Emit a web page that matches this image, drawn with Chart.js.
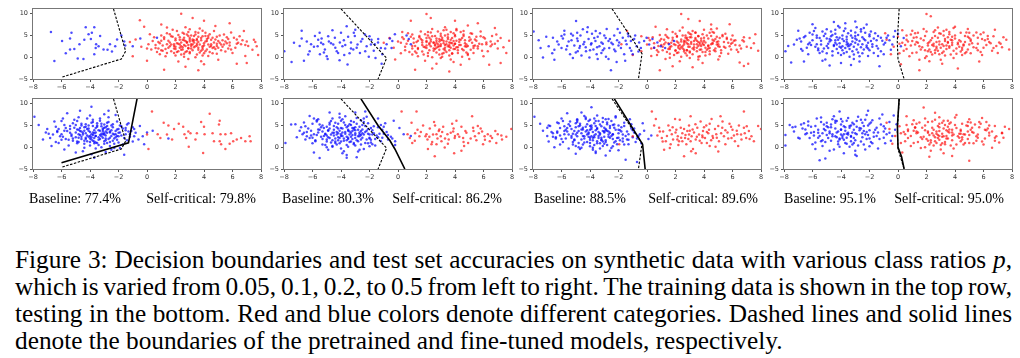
<!DOCTYPE html>
<html>
<head>
<meta charset="utf-8">
<script src="https://cdn.jsdelivr.net/npm/chart.js@4.4.1/dist/chart.umd.min.js"></script>
<style>
  body { margin: 0; width: 1020px; height: 358px; background: #fff; position: relative; overflow: hidden;
         font-family: "Liberation Serif", "Times New Roman", serif; color: #000; }
  canvas.panel { position: absolute; }
  .acc { position: absolute; top: 191px; font-size: 14px; line-height: 16px; white-space: nowrap; transform: translateX(-50%); }
  .cap { position: absolute; left: 15px; font-family: "Liberation Serif", "Times New Roman", serif;
         font-size: 25.3px; line-height: 27px; white-space: nowrap; }
</style>
</head>
<body>

<canvas class="panel" id="t1"></canvas>
<canvas class="panel" id="t2"></canvas>
<canvas class="panel" id="t3"></canvas>
<canvas class="panel" id="t4"></canvas>
<canvas class="panel" id="b1"></canvas>
<canvas class="panel" id="b2"></canvas>
<canvas class="panel" id="b3"></canvas>
<canvas class="panel" id="b4"></canvas>

<div class="acc" style="left:75px">Baseline: 77.4%</div>
<div class="acc" style="left:201px">Self-critical: 79.8%</div>
<div class="acc" style="left:328px">Baseline: 80.3%</div>
<div class="acc" style="left:447px">Self-critical: 86.2%</div>
<div class="acc" style="left:580px">Baseline: 88.5%</div>
<div class="acc" style="left:703px">Self-critical: 89.6%</div>
<div class="acc" style="left:830px">Baseline: 95.1%</div>
<div class="acc" style="left:949px">Self-critical: 95.0%</div>

<div class="cap fit" style="top:246px">Figure 3: Decision boundaries and test set accuracies on synthetic data with various class ratios <i>p</i>,</div>
<div class="cap fit" style="top:273px">which is varied from 0.05, 0.1, 0.2, to 0.5 from left to right. The training data is shown in the top row,</div>
<div class="cap fit" style="top:300px">testing in the bottom. Red and blue colors denote different categories. Dashed lines and solid lines</div>
<div class="cap" style="top:327px">denote the boundaries of the pretrained and fine-tuned models, respectively.</div>

<script>
// axes
const xTicks = [-8, -6, -4, -2, 0, 2, 4, 6, 8];
const yTicks = [-5, 0, 5, 10];
const yMax = 11.1;

// ---- p = 0.05 ----
const redTop1 = [
  2.1,3.2, 3.4,2.5, 2.8,1.4, 4.1,3.6, 1.5,2.2, 3.0,4.4, 2.4,0.6, 5.2,2.9, 3.7,1.1, 0.8,3.5,
  2.6,2.8, 3.9,4.8, 1.9,1.0, 4.6,2.1, 3.3,3.9, 0.3,1.8, 5.8,3.4, 2.2,5.1, 4.3,0.3, 1.2,4.2,
  3.1,2.0, 2.7,3.7, 4.8,4.1, 1.7,2.9, 3.6,5.6, 6.2,2.2, 0.9,0.7, 2.9,-0.4, 4.0,2.7, 2.0,3.9,
  3.5,3.1, 5.5,1.3, 1.4,5.5, 3.8,-0.9, 6.7,3.9, 2.5,2.3, 4.4,5.3, 0.1,3.0, 3.2,1.6, 5.0,3.7,
  2.3,4.6, 1.1,1.5, 4.2,1.8, 3.7,6.6, 2.6,0.1, 7.1,2.6, 0.5,4.6, 4.9,0.8, 2.0,2.4, 3.3,4.9,
  1.6,3.4, 4.5,3.0, 2.9,5.8, 5.6,4.6, 3.0,0.9, 6.0,1.0, -0.4,2.4, 3.9,2.2, 2.4,1.7, 4.7,6.0,
  1.8,6.3, 3.6,3.5, 5.3,2.4, 0.6,2.1, 2.8,3.3, 6.5,4.8, 4.0,-1.6, 1.3,0.2, 3.4,5.2, 7.4,1.7,
  2.5,4.0, 4.9,2.6, 1.0,3.8, 3.2,2.9, 5.9,5.7, -0.8,4.1, 2.2,-1.0, 4.3,4.4, 6.9,0.3, 3.8,1.5,
  2.7,6.9, 0.2,5.3, 4.6,0.9, 1.9,2.0, 5.1,3.3, 3.5,4.2, 2.1,1.2, 6.3,3.1, 1.4,6.8, 4.4,2.4,
  3.0,3.6, 5.7,2.0, 0.7,1.2, 2.6,5.4, 4.1,4.9, 7.6,3.5, 1.7,4.8, 3.9,0.4, 5.4,5.2, 2.9,2.1,
  2.4,10.0, 3.2,9.0, -0.5,8.5, 4.0,8.4, 5.8,7.8, 7.0,-1.3, 6.3,-1.5, 3.6,-3.0, 2.7,-2.2, 1.2,-2.9,
  -1.0,0.2, -1.2,3.5, -0.2,7.0, 7.8,0.5, 7.5,4.0, 6.8,6.0, 1.0,7.5, 5.0,-0.6, 0.0,-0.8, 4.8,7.2,
  2.3,2.9, 3.1,2.6, 2.8,3.5, 3.6,2.2, 1.9,3.0, 4.0,3.2, 2.5,1.8, 3.3,3.4, 4.5,2.6, 1.6,2.5,
  2.9,2.0, 3.8,3.9, 2.0,4.3, 4.2,4.2, 3.0,1.2, 1.4,3.0, 5.0,2.2, 2.6,4.5, 3.5,0.6, 4.7,3.4,
  2.2,1.4, 3.2,4.1, 1.1,2.7, 5.3,3.9, 3.9,1.8, 2.7,2.6, 4.4,1.2, 0.8,2.0, 3.4,5.8, 5.8,2.7,
  2.4,3.4, 3.7,2.9, 1.8,4.7, 4.9,4.7, 3.1,3.0, 0.4,3.7, 5.5,3.6, 2.0,0.4, 4.1,5.6, 6.4,3.3,
  2.9,4.9, 1.3,1.9, 3.6,1.7, 4.6,4.5, 2.3,2.2, 6.1,4.5, 1.0,5.0, 3.9,6.1, 5.2,1.6, 2.6,3.9,
  3.3,2.3, 4.3,2.9, 1.5,3.8, 2.8,5.2, 5.7,4.2, 3.5,2.7, 0.0,2.0, 4.0,0.9, 2.1,6.0, 6.9,2.8,
  3.0,4.0, 2.4,2.5, 4.8,1.9, 1.7,1.4, 3.8,4.4, 5.1,5.0, 2.2,3.1, 3.4,0.0, 6.3,4.1, 0.9,3.2,
  4.2,3.7, 1.2,4.6, 3.1,5.0, 5.4,2.9, 2.7,1.2, 4.5,4.0, 1.9,2.6, 6.6,3.0, 3.6,4.7, 2.5,5.6,
  3.9,2.5, 4.9,3.1, 1.4,1.0, 2.9,2.8, 5.9,1.8, 3.2,3.7, 0.6,2.8, 4.3,4.9, 2.0,1.9, 7.0,3.6,
  3.5,3.9, 2.6,0.8, 4.7,2.3, 1.6,5.3, 3.0,6.4, 5.6,3.2, 2.3,4.0, 4.1,1.4, 1.0,1.6, 7.7,2.5
];
const blueTop1 = [
  -6.74,5.8, -5.96,3.7, -6.5,-0.85, -5.3,5.6, -5.4,4.3, -5.7,0.9, -5.4,1.8, -5.1,1.9, -4.86,-0.3, -4.74,3.0,
  -4.3,6.9, -4.1,5.3, -4.4,4.0, -3.94,4.2, -3.7,6.9, -3.87,5.6, -3.7,0.7, -3.57,3.0, -3.4,2.5, -3.29,4.9,
  -3.6,2.1, -2.77,1.7, -2.6,3.0, -2.46,1.3, -2.23,2.5, -2.1,4.1, -1.8,5.0, -1.6,3.6, -1.53,2.7, -1.0,2.5,
  -0.47,4.3, 0.7,4.5, -3.05,1.8, -4.46,-0.4
];
const blueBot1 = [
  -3.2,3.1, -4.1,2.4, -2.7,4.2, -3.8,1.5, -4.6,3.6, -2.3,2.0, -3.5,5.0, -5.0,2.3, -1.9,3.4, -3.0,0.8,
  -4.4,4.6, -2.9,2.7, -3.7,3.9, -5.4,4.2, -2.0,1.1, -4.0,0.4, -3.3,6.1, -6.0,3.0, -1.5,4.4, -2.6,3.6,
  -4.8,1.2, -3.9,5.6, -3.1,2.2, -5.7,1.9, -2.4,5.3, -4.3,3.2, -1.2,2.4, -6.4,4.7, -3.6,-0.3, -2.8,4.9,
  -5.2,5.5, -3.4,1.7, -4.7,2.8, -2.2,3.0, -6.8,2.1, -3.0,4.5, -4.2,6.6, -1.7,0.6, -5.5,0.4, -2.5,-0.6,
  -3.8,3.4, -4.9,4.1, -2.1,5.9, -6.2,1.0, -3.2,0.0, -0.8,3.3, -5.1,6.3, -4.5,-0.9, -2.9,1.6, -7.1,3.4,
  -3.6,2.6, -4.0,7.3, -1.4,1.6, -5.8,3.8, -2.7,6.9, -4.6,1.9, -3.3,3.8, -0.5,4.9, -6.5,5.9, -3.9,-1.6,
  -2.3,2.9, -5.3,2.6, -4.1,4.3, -1.8,4.8, -7.6,5.1, -3.0,7.6, -4.4,-0.1, -2.6,0.3, -5.9,6.6, -1.0,1.3,
  -3.5,4.7, -4.8,3.0, -2.0,2.5, -6.1,2.5, -3.7,0.9, -0.3,2.5, -5.0,-1.2, -2.8,5.6, -4.3,5.3, -1.3,5.5,
  -3.9,9.3, -7.9,7.0, -6.7,0.3, -1.6,-1.7, -2.2,7.4, -5.6,7.8, -0.2,0.7, -7.3,1.8, -4.7,8.4, 0.4,3.8,
  -3.1,4.0, -4.2,1.4, -2.5,3.9, -3.4,2.3, -5.4,3.3, -1.1,3.7, -4.0,2.0, -2.9,-1.1, -6.3,3.5, -2.4,1.5,
  -3.8,6.3, -4.6,5.0, -1.9,-0.2, -5.8,-0.5, -3.2,5.4, -0.9,4.2, -4.9,0.9, -2.6,2.2, -7.0,4.2, -3.6,1.1,
  -4.4,3.8, -2.1,4.1, -5.2,1.5, -3.0,3.2, -1.5,3.0, -6.0,6.0, -3.7,-2.4, -2.7,8.4, -4.8,6.9, 1.5,2.0,
  -3.3,2.8, -4.0,3.5, -2.8,3.3, -3.7,2.1, -4.5,2.9, -2.5,2.6, -3.1,4.3, -4.3,1.9, -2.2,3.7, -5.0,3.4,
  -3.9,3.0, -2.9,2.0, -4.7,4.4, -3.4,3.9, -1.8,2.7, -4.2,2.7, -3.0,1.4, -5.3,2.9, -2.4,4.6, -3.6,4.4,
  -4.4,1.5, -2.7,1.9, -3.8,4.9, -5.6,3.7, -2.0,4.2, -3.2,2.5, -4.8,2.2, -1.6,2.1, -3.5,1.0, -4.1,5.0,
  -2.6,3.4, -5.9,2.4, -3.9,2.3, -2.1,1.7, -4.6,5.4, -3.0,5.2, -6.3,3.7, -1.3,3.6, -3.7,3.2, -4.9,1.3,
  -2.8,4.1, -4.2,4.2, -3.4,0.5, -5.4,4.9, -1.9,5.0, -3.1,3.6, -4.5,3.3, -2.3,0.8, -6.0,1.7, -3.8,5.8,
  -2.5,5.0, -4.0,1.2, -5.1,4.5, -3.3,1.9, -1.5,3.9, -4.7,3.7, -2.9,4.6, -6.6,2.9, -3.6,2.6, -0.9,2.5,
  -4.3,2.2, -2.2,2.3, -3.2,4.8, -5.7,4.4, -2.6,1.2, -4.1,3.8, -1.2,3.0, -3.9,1.8, -5.5,1.7, -3.0,2.9,
  -4.8,4.0, -2.0,3.3, -3.5,5.5, -6.2,4.2, -2.7,5.8, -4.4,0.8, -1.7,4.3, -3.6,3.4, -5.0,5.1, -2.4,3.1,
  -3.8,2.8, -4.6,2.4, -2.9,3.6, -5.2,2.0, -3.3,6.6, -1.0,4.6, -4.9,6.0, -2.3,-0.2, -6.9,3.1, -0.6,1.8,
  -3.1,3.0, -4.3,4.7, -2.1,2.6, -5.8,5.1, -3.7,1.3, -4.0,2.6, -2.8,1.0, -6.4,1.2, -1.4,5.2, 0.0,3.4
];
const redBot1 = [
  0.35,8.2, 1.17,5.6, 0.75,3.0, 0.94,2.1, 1.4,2.9, 1.5,5.0, 1.9,4.2, 1.76,1.8, 2.23,5.4, 2.54,4.7,
  2.63,3.0, 2.75,2.1, 2.9,3.6, 3.05,3.2, 3.4,1.8, 3.5,3.2, 3.8,5.8, 4.0,4.7, 3.94,-1.3, 4.04,3.0,
  4.4,7.7, 4.6,3.2, 5.1,6.1, 5.05,5.2, 5.16,3.0, 5.1,1.4, 5.2,0.7, 5.5,3.0, 5.5,-0.4, 5.8,0.8,
  5.9,3.2, 6.05,1.4, 6.3,1.8, 6.6,2.1, 6.9,1.4, 7.2,2.5, 7.27,1.4, 0.0,2.9, 0.1,-0.4, 2.93,0.1,
  4.7,1.4
];
const dash1 = [-2.35,11.1, -1.5,1.4, -1.8,-0.4, -6.0,-4.6];
const solid1 = [-0.7,11.1, -1.3,1.0, -6.0,-3.55];

// ---- p = 0.1 ----
const redTop2 = [
  3.3,2.8, 2.0,3.5, 4.5,1.9, 2.7,4.3, 3.8,0.9, 1.2,2.6, 5.0,3.8, 2.9,1.7, 4.0,5.1, 0.6,3.1,
  3.6,3.4, 1.7,1.3, 5.4,2.7, 2.3,5.7, 4.2,2.3, 3.0,-0.2, 6.1,4.3, 0.9,4.7, 3.5,4.6, 2.5,2.0,
  4.7,3.2, 1.4,3.8, 2.8,3.0, 5.9,1.5, 3.2,6.2, 0.2,0.9, 4.4,4.0, 2.1,0.3, 6.6,2.9, 3.7,2.2,
  2.6,4.9, 5.2,5.4, 1.0,2.0, 3.9,-1.1, 4.9,0.5, 2.2,2.9, 7.0,3.7, 3.4,1.2, 1.6,5.9, 4.1,3.8,
  2.9,3.6, 5.7,3.1, 0.4,4.2, 3.1,4.0, 4.6,6.0, 1.9,-0.8, 6.3,1.4, 2.4,6.5, 3.6,0.4, 5.5,4.7,
  1.3,1.0, 4.3,2.8, 2.0,4.4, 3.5,2.5, 6.9,5.2, -0.3,2.2, 4.8,1.1, 2.7,-1.5, 3.0,5.4, 7.4,2.3,
  1.8,2.4, 3.8,4.4, 5.3,2.1, 0.7,5.5, 2.5,3.3, 6.0,0.2, 4.0,3.1, 1.1,3.3, 3.3,6.9, 5.0,-0.4,
  2.2,1.6, 4.6,4.9, 3.2,3.7, 0.0,3.6, 5.8,5.9, 2.9,2.5, 4.4,-1.7, 1.5,4.6, 6.5,3.6, 3.7,5.8,
  2.0,9.9, 2.3,9.0, 4.0,8.4, 0.9,8.4, 5.6,7.8, 6.8,6.7, 7.8,3.8, 7.2,-1.3, 6.4,-1.7, 3.6,-3.3,
  1.2,-2.9, 2.4,-2.6, -0.2,-0.5, -0.6,4.4, -1.0,3.3, 7.6,1.0, 4.9,7.3, 3.1,0.8, 1.7,3.9, 4.2,1.6,
  2.6,2.7, 3.4,3.0, 4.8,2.4, 1.4,1.9, 5.1,4.1, 3.9,1.9, 2.1,5.0, 0.5,1.6, 4.5,0.1, 3.0,3.9,
  5.6,2.5, 1.0,0.6, 3.7,3.3, 2.7,1.1, 6.2,3.0, 4.1,6.5, 2.3,4.1, 3.2,1.9, 0.3,5.8, 5.3,1.0,
  2.8,2.4, 3.4,3.6, 2.2,3.2, 3.9,2.7, 2.5,1.5, 4.3,3.5, 1.7,2.8, 3.1,4.5, 4.8,2.9, 2.0,2.1,
  3.6,1.6, 2.7,3.8, 4.5,4.4, 1.3,3.5, 3.3,2.2, 5.2,3.3, 2.4,4.8, 3.8,0.8, 1.0,2.6, 4.1,2.3,
  3.0,3.0, 2.1,1.0, 5.0,4.6, 3.5,5.2, 1.6,4.2, 4.6,1.6, 2.9,0.6, 5.6,2.0, 0.7,3.8, 3.7,4.0,
  2.6,2.9, 4.0,3.1, 1.9,5.3, 5.4,4.1, 3.2,1.0, 6.2,3.4, 0.5,2.4, 2.3,3.6, 4.4,5.8, 3.6,2.8,
  2.0,3.7, 4.9,2.6, 3.0,4.9, 1.2,1.3, 5.8,4.8, 2.7,2.2, 4.2,1.0, 6.5,2.5, 1.8,0.6, 3.4,6.3,
  3.9,3.7, 2.3,2.5, 5.1,1.7, 1.5,4.9, 4.7,3.9, 3.1,0.1, 0.2,3.3, 2.8,5.9, 6.0,4.6, 4.0,4.8,
  2.5,3.4, 3.6,2.4, 1.4,2.1, 4.4,2.8, 2.9,4.2, 5.5,3.8, 1.1,4.3, 3.3,1.6, 6.8,3.1, 2.1,5.8,
  3.8,3.2, 4.6,5.2, 2.4,0.0, 5.3,2.6, 1.7,3.4, 3.2,3.2, 0.8,1.2, 4.1,6.2, 7.2,4.4, 2.6,1.9,
  3.5,4.2, 1.9,2.3, 4.9,0.8, 3.0,2.6, 5.9,3.0, 2.2,4.5, 4.3,4.1, 1.0,5.2, 3.7,-0.5, 6.6,4.9,
  2.7,3.3, 4.0,1.9, 3.3,5.0, 1.4,0.2, 5.1,5.5, 2.0,2.7, 4.7,2.5, 0.3,4.6, 3.9,5.5, 7.0,2.0
];
const blueTop2 = [
  -7.98,1.4, -7.47,-1.1, -6.76,6.1, -6.76,4.3, -6.6,-0.8, -6.2,1.4, -6.1,3.0, -5.83,4.9, -5.5,5.6, -5.36,4.3,
  -5.64,2.5, -5.48,0.7, -5.25,3.0, -5.13,1.8, -4.94,-0.4, -4.85,3.6, -4.54,2.9, -4.43,4.5, -4.3,1.4, -4.08,3.4,
  -3.9,2.5, -3.77,0.5, -3.6,7.1, -3.5,4.7, -3.54,-1.65, -3.3,3.4, -3.14,1.8, -3.03,4.9, -2.84,2.9, -2.67,1.0,
  -2.5,4.2, -2.32,5.2, -2.2,2.5, -2.05,0.1, -1.86,4.0, -1.63,3.0, -1.58,-0.2, -1.39,4.2, -1.2,2.1, -1.1,0.7,
  -0.8,3.0, -0.57,4.3, -0.45,2.1, -0.22,5.3, 0.6,5.0, 0.76,4.2, 0.9,3.0, -1.15,-1.5, -4.2,1.0,
  -4.7,3.2, -5.9,2.4, -3.8,3.9, -2.9,2.2, -5.2,1.1, -4.0,5.6, -6.4,3.6, -3.4,0.9, -2.6,3.6, -4.4,2.2,
  -1.9,2.9, -5.6,4.0, -3.1,5.6, -6.9,2.6, -4.9,4.8, -2.3,1.4, -3.7,2.8, -1.4,3.4, -5.0,0.2, -3.0,6.3,
  -7.3,3.3, -0.9,2.0, -4.1,-0.7, -2.0,4.8, -6.3,0.6, -3.3,2.0, -4.6,6.2, -1.7,1.5, -5.4,3.3, -0.4,3.7
];
const blueBot2 = [
  -3.6,2.4, -4.3,3.5, -2.9,1.6, -3.9,4.3, -5.0,1.8, -2.5,3.2, -3.3,5.1, -4.7,2.9, -2.0,2.2, -3.0,3.9,
  -5.6,3.4, -4.1,0.9, -2.7,4.7, -3.5,0.1, -4.8,5.2, -1.8,3.9, -6.0,2.2, -3.2,2.8, -4.5,4.0, -2.3,1.0,
  -3.8,1.5, -5.3,0.6, -2.1,5.5, -4.0,6.1, -6.3,4.3, -1.5,2.7, -3.1,0.7, -5.0,4.7, -2.6,6.2, -4.4,1.3,
  -3.4,3.6, -6.7,3.0, -1.2,1.4, -4.9,-0.6, -3.7,7.1, -2.4,-0.4, -5.7,5.9, -0.8,3.5, -4.2,2.3, -3.0,4.6,
  -7.2,5.3, -5.2,2.6, -2.8,2.5, -4.6,6.6, -1.7,4.8, -3.9,-1.4, -6.0,0.9, -2.2,7.0, -0.4,2.0, -3.5,4.9,
  -4.0,3.0, -5.5,4.0, -2.0,0.2, -3.3,6.0, -6.5,1.8, -1.0,4.7, -4.6,0.3, -2.6,3.7, -5.9,6.6, -3.6,-2.4,
  -7.9,1.0, -7.5,5.2, -6.2,7.2, -4.1,7.7, -0.2,0.5, -5.5,-2.5, -3.0,8.0, -1.4,6.6, 0.1,4.4, -2.9,-2.3,
  -4.3,4.6, -2.4,2.9, -5.1,3.1, -3.2,1.9, -1.3,3.1, -4.7,1.1, -3.8,5.7, -6.1,2.7, -2.1,4.2, -0.7,1.8,
  -3.5,2.2, -4.4,2.0, -2.7,3.4, -5.3,5.0, -1.9,1.7, -3.1,4.4, -4.9,3.8, -6.9,3.8, -2.5,5.1, -4.0,-0.3,
  -3.7,3.1, -5.8,1.4, -1.6,0.4, -4.2,5.4, -2.8,-1.0, -0.9,5.5, -6.6,5.7, -3.4,1.2, -5.0,0.0, -1.1,2.2,
  -4.8,2.1, -3.0,2.8, -2.2,3.8, -4.5,3.3, -3.9,2.6, -5.4,2.4, -2.6,1.8, -3.3,3.3, -1.8,2.9, -4.2,4.3,
  -6.4,3.5, -7.1,2.3, -5.6,6.4, -0.3,6.1, 0.4,3.0, 0.9,2.6, -2.3,8.2, -4.8,8.0, -3.6,-1.8, -5.9,-1.2,
  -3.4,2.9, -4.1,3.8, -2.7,2.5, -3.8,2.0, -4.6,3.3, -2.3,3.5, -3.1,4.1, -4.9,2.3, -2.0,2.9, -3.6,4.6,
  -5.3,3.6, -4.2,1.6, -2.5,4.1, -3.3,1.3, -4.5,4.9, -1.7,3.2, -5.7,2.8, -3.0,3.2, -4.0,2.6, -2.2,1.8,
  -3.7,3.5, -5.0,1.3, -2.9,5.4, -4.4,5.6, -6.1,3.8, -1.4,2.3, -3.5,1.9, -4.8,4.3, -2.4,5.8, -4.3,0.6,
  -3.2,4.4, -6.4,2.5, -1.9,1.1, -4.6,0.1, -3.9,6.4, -2.6,0.6, -5.5,5.2, -1.1,4.0, -4.1,2.1, -2.8,4.0,
  -6.8,4.6, -5.1,3.0, -3.0,2.1, -4.7,6.0, -1.9,4.4, -3.6,0.5, -5.8,1.6, -2.4,6.6, -0.7,2.8, -3.4,5.3,
  -4.2,3.2, -5.4,4.6, -2.1,0.9, -3.1,5.8, -6.2,2.1, -1.2,5.1, -4.4,1.0, -2.7,3.0, -5.7,6.2, -3.8,-0.9,
  -4.9,3.9, -2.5,2.2, -3.9,3.4, -1.6,1.9, -4.5,2.7, -3.3,2.4, -5.2,4.4, -2.8,1.4, -3.5,4.0, -6.6,3.3,
  -4.0,4.4, -2.1,3.1, -5.0,2.7, -3.2,3.7, -1.4,4.6, -4.6,1.6, -3.7,5.1, -5.9,3.0, -2.3,4.9, -0.5,2.4,
  -3.6,1.6, -4.3,2.9, -2.6,2.8, -5.6,4.1, -2.0,2.0, -3.0,0.4, -4.8,5.6, -6.5,4.8, -2.9,6.7, -4.0,1.3,
  -3.5,3.8, -5.3,1.9, -1.8,0.7, -4.1,6.8, -2.7,-0.6, -1.0,3.1, -6.0,5.4, -3.1,1.0, -5.1,0.5, -0.2,1.4
];
const redBot2 = [
  0.25,8.2, 1.3,8.2, 0.95,5.6, 0.67,3.0, 0.83,2.1, 1.0,1.0, 1.37,4.0, 1.5,2.5, 1.76,5.0, 2.0,3.0,
  2.07,1.8, 2.23,4.3, 2.35,0.7, 2.53,5.8, 2.7,3.0, 2.77,2.0, 2.58,-2.1, 2.86,3.7, 3.0,2.5, 3.05,1.4,
  3.17,4.7, 3.28,-0.05, 3.47,3.0, 3.56,1.8, 3.8,5.4, 3.87,3.6, 3.94,-1.4, 4.1,6.1, 4.2,3.0, 4.45,4.7,
  4.57,2.1, 4.73,3.7, 4.92,1.0, 5.2,7.1, 5.27,4.5, 5.4,2.5, 5.5,1.6, 5.67,3.2, 5.8,4.3, 5.97,0.7,
  6.08,2.5, 6.3,3.0, 6.44,1.4, 6.6,2.1, 6.83,3.7, 7.25,2.7, 7.3,1.8, 7.95,4.2, 2.46,2.9, 3.98,2.1,
  4.64,0.3, 2.7,0.7, 1.93,2.5, 1.18,1.5, 4.45,-0.8,
  1.6,3.5, 2.2,2.4, 2.9,4.1, 3.3,2.0, 3.7,3.3, 4.3,2.4, 4.8,3.3, 5.1,2.0, 5.9,3.6, 6.5,2.6,
  2.4,1.2, 3.1,3.5, 3.9,4.3, 4.6,1.2, 5.3,3.7, 6.1,1.7, 7.0,3.0, 1.2,3.2, 2.6,5.0, 3.5,0.8,
  4.0,2.6, 5.6,4.9, 6.9,1.0, 2.1,-0.4, 7.6,2.4
];
const dash2 = [-4.0,11.1, -0.8,-0.2, -1.4,-5];
const solid2 = [-2.6,11.1, -1.4,5.0, -0.57,1.55, -0.22,-0.4, 0.48,-5];

// ---- p = 0.2 ----
const redTop3 = [
  2.5,2.6, 3.7,3.3, 2.0,1.5, 4.3,2.0, 3.1,4.6, 1.3,3.4, 5.1,2.4, 2.8,0.4, 3.9,5.3, 0.5,2.2,
  3.3,1.8, 2.4,4.1, 4.7,3.8, 1.6,0.8, 5.6,4.5, 2.9,3.0, 0.9,5.1, 3.6,-0.5, 6.2,2.8, 4.1,1.2,
  1.9,3.0, 3.4,5.7, 5.2,1.0, 2.2,2.2, 4.5,4.9, 0.2,3.9, 3.0,2.4, 6.8,3.6, 1.1,1.6, 3.8,3.8,
  2.7,5.0, 4.9,2.9, 1.5,4.4, 3.5,1.4, 5.9,1.8, 2.3,-0.9, 4.0,6.3, 0.7,0.5, 3.1,3.5, 7.2,4.4,
  4.4,0.7, 1.8,5.8, 2.6,3.8, 5.5,5.4, 3.6,2.6, -0.4,1.4, 4.8,4.2, 2.1,1.0, 6.4,1.2, 3.2,6.0,
  1.0,2.8, 3.9,3.0, 2.8,4.5, 5.7,3.3, 0.4,4.6, 4.2,1.7, 2.4,0.1, 6.0,5.0, 3.4,4.1, 1.4,6.4,
  4.6,5.8, 2.2,3.3, 3.7,0.2, 5.0,3.6, 1.7,2.5, 6.6,2.0, 3.0,1.1, 0.0,2.9, 4.3,2.6, 2.5,6.8,
  3.5,2.2, 4.8,1.4, 1.2,4.0, 2.9,3.9, 5.3,4.8, 3.9,-1.3, 7.0,2.4, 2.0,5.4, 4.1,3.4, 0.8,1.2,
  2.4,9.9, 3.7,8.3, 2.9,8.8, 5.8,7.6, 7.6,5.3, 7.8,1.5, 6.5,-1.2, 6.8,-2.0, 3.2,-2.3, 0.9,-3.0,
  1.8,-2.1, -1.0,0.5, -1.8,3.0, -1.4,6.0, 0.6,7.0, 4.5,7.5, 7.1,-1.5, 5.0,-0.5, -0.4,4.8, 2.6,1.7,
  3.3,2.9, 4.0,4.5, 1.6,1.9, 5.4,2.4, 2.8,1.6, 3.6,4.9, 4.6,3.1, 2.1,4.7, 0.3,0.3, 5.9,4.1,
  3.0,5.4, 1.3,-0.4, 4.4,5.6, 6.2,3.9, 2.3,2.8, 3.8,1.8, 5.1,0.2, 1.5,3.2, 4.9,6.6, 2.7,3.6,
  2.6,2.9, 3.3,2.3, 2.1,3.6, 4.0,2.8, 3.0,1.3, 1.6,2.3, 4.6,3.3, 2.8,4.1, 3.7,1.7, 5.0,2.5,
  2.3,1.9, 3.5,3.8, 1.2,3.0, 4.3,4.3, 2.9,2.4, 5.4,3.5, 1.8,4.5, 3.2,0.7, 4.7,1.6, 0.8,2.6,
  3.9,3.4, 2.5,5.0, 5.8,2.5, 1.4,1.2, 3.6,4.8, 4.4,2.1, 2.0,2.8, 6.1,3.8, 2.7,0.9, 3.1,3.1,
  4.9,4.7, 1.0,4.2, 3.8,2.6, 2.2,1.1, 5.2,1.6, 3.4,5.6, 0.5,3.2, 4.1,0.4, 2.4,3.6, 6.5,2.7,
  3.0,4.6, 4.5,3.0, 1.7,3.3, 5.6,4.2, 2.8,1.6, 3.7,2.9, 1.3,5.1, 4.8,2.0, 2.1,4.9, 6.8,4.6,
  3.3,3.7, 2.4,2.3, 4.2,5.0, 1.5,1.9, 5.9,3.1, 3.6,0.1, 0.9,3.8, 4.6,4.0, 2.9,5.7, 7.3,2.1,
  3.9,1.2, 2.6,3.4, 4.0,3.8, 1.9,0.5, 5.3,5.1, 3.2,2.0, 0.3,2.0, 4.4,1.4, 2.3,6.1, 6.3,1.7,
  3.5,3.0, 4.9,3.5, 1.1,2.4, 2.7,4.5, 5.7,0.8, 3.8,4.3, 2.0,1.6, 6.0,3.3, 3.1,5.2, 1.6,-0.1,
  2.5,2.0, 4.3,2.7, 3.4,4.4, 5.1,4.4, 1.4,4.7, 2.8,3.2, 4.7,5.6, 0.7,1.6, 3.6,3.5, 6.7,3.9,
  4.1,2.2, 2.2,2.6, 5.5,2.2, 3.0,-0.2, 1.8,3.9, 4.5,6.4, 2.6,1.3, 5.0,3.0, 0.1,4.4, 7.5,3.2
];
const blueTop3 = [
  -7.96,5.9, -7.47,2.1, -7.3,-0.05, -7.07,4.7, -6.6,4.5, -6.65,0.9, -6.5,-0.6, -6.2,2.9, -5.9,4.3, -5.8,6.1,
  -5.67,1.8, -5.5,3.6, -5.4,0.7, -5.2,5.0, -5.1,2.7, -4.98,8.3, -4.86,3.7, -4.74,2.1, -4.67,5.0, -4.5,6.4,
  -4.46,3.0, -4.28,1.4, -4.16,6.9, -4.1,4.2, -3.93,2.9, -3.86,5.4, -3.76,1.8, -3.62,3.7, -3.53,0.7, -3.46,4.7,
  -3.34,2.5, -3.2,3.4, -3.1,1.6, -3.0,5.0, -2.88,0.1, -2.83,6.5, -2.7,3.7, -2.65,2.1, -2.53,-3.0, -2.4,3.0,
  -2.3,5.0, -2.22,1.4, -2.13,-1.1, -2.06,6.5, -1.95,3.4, -1.83,2.1, -1.7,4.5, -1.6,0.7, -1.53,-0.8, -1.43,3.0,
  -1.34,5.4, -1.2,2.1, -1.13,3.7, -1.0,0.7, -0.83,5.0, -0.73,2.5, -0.55,3.4, -0.43,2.1, -0.2,3.7, -0.03,4.5,
  0.15,2.9, 0.38,4.2, 0.73,3.4, 0.97,2.5, 1.27,2.1, 1.55,3.0, 1.9,3.7, -3.46,-0.4, -4.86,1.4, -5.33,5.4,
  -6.0,2.1, -4.04,-0.05,
  -4.4,3.5, -5.6,2.6, -3.5,2.3, -2.6,4.2, -4.9,4.3, -3.1,3.1, -6.3,3.6, -2.0,2.7, -4.0,1.6, -5.3,3.9,
  -3.7,4.4, -2.3,1.8, -4.7,2.6, -1.5,3.8, -6.9,2.5, -3.3,5.5, -5.0,1.1, -2.9,4.4, -4.2,5.8, -1.1,1.5,
  -3.9,3.2, -5.8,5.2, -2.5,3.3, -4.6,0.4, -0.9,4.2, -3.0,2.0, -6.0,4.9, -1.9,5.6, -4.3,2.3, -7.6,3.9,
  -3.6,6.0, -5.2,-0.2, -2.1,3.9, -0.6,1.3, -4.9,5.6, -3.2,1.0, -6.5,1.7, -1.3,4.8, -2.7,-0.4, 0.5,2.2
];
const blueBot3 = [
  -3.4,3.5, -4.5,2.6, -2.6,2.2, -3.9,4.6, -5.1,3.7, -2.2,4.0, -3.1,1.3, -4.2,5.3, -1.7,2.9, -5.7,2.0,
  -3.7,2.7, -4.8,1.0, -2.4,5.1, -3.0,3.4, -6.1,4.4, -1.4,1.8, -4.0,0.2, -5.4,5.9, -2.8,0.5, -3.6,6.0,
  -4.6,4.1, -2.0,3.2, -6.6,2.4, -3.3,-0.3, -1.1,4.3, -4.3,6.8, -5.2,0.6, -2.7,6.5, -0.6,2.6, -3.8,1.6,
  -5.8,3.0, -2.3,1.1, -4.1,3.1, -3.2,4.8, -6.9,1.3, -1.6,5.6, -4.7,-0.4, -3.5,7.3, -2.0,-0.7, -5.0,4.6,
  -7.3,3.8, -4.4,2.0, -2.9,3.9, -1.3,0.7, -5.5,2.9, -3.7,0.5, -0.9,3.4, -6.3,5.7, -3.1,5.8, -4.9,6.4,
  -2.5,2.6, -4.0,4.0, -5.9,1.2, -1.8,4.6, -3.4,2.1, -6.0,6.6, -2.2,7.1, -4.6,8.0, -7.0,2.6, -0.4,0.9,
  -3.9,9.2, -7.9,7.0, -6.5,0.0, -5.0,-1.5, -2.9,-1.9, -1.5,-2.9, -0.7,-3.4, -3.6,-1.0, -5.6,7.8, -0.3,5.5,
  -3.6,3.0, -4.3,3.6, -2.1,2.1, -5.3,4.2, -3.0,2.4, -4.9,2.5, -2.6,4.4, -1.0,2.3, -3.9,5.0, -6.3,3.3,
  -3.2,1.8, -4.7,5.0, -2.4,3.0, -5.6,3.6, -1.4,3.6, -3.8,2.2, -4.2,1.2, -2.8,5.3, -6.8,4.9, -0.2,3.8,
  -3.5,4.2, -5.1,1.6, -2.0,5.0, -4.5,4.5, -3.0,0.8, -5.8,4.8, -1.7,1.3, -4.0,6.3, -2.5,-0.2, -7.5,5.4,
  -4.6,3.2, -3.3,2.9, -2.7,3.6, -4.1,2.4, -3.6,4.9, -5.3,2.2, -1.9,3.9, -2.9,1.6, -4.8,0.0, -6.1,0.6,
  -3.1,6.7, -0.8,1.2, -1.2,6.4, -5.0,5.5, -6.4,2.0, -2.3,4.5, -3.8,-0.6, -4.4,7.2, -5.5,-0.3, 0.3,2.7,
  -3.3,3.2, -4.2,2.9, -2.8,3.8, -3.7,2.3, -4.9,3.3, -2.4,2.9, -3.0,4.5, -4.5,4.1, -2.0,2.2, -5.3,2.6,
  -3.6,3.9, -4.0,1.7, -2.6,4.9, -3.2,1.6, -4.7,5.4, -1.8,3.6, -5.8,3.7, -3.4,2.6, -4.3,4.7, -2.2,1.4,
  -3.9,2.5, -5.1,1.8, -2.5,6.0, -4.1,6.0, -6.3,3.6, -1.5,2.6, -3.5,0.9, -4.8,4.8, -2.8,5.7, -4.4,1.1,
  -3.1,3.7, -6.6,3.2, -1.3,1.7, -4.6,-0.1, -3.7,6.6, -2.4,0.2, -5.5,5.3, -0.9,4.3, -4.0,2.2, -2.9,4.2,
  -7.0,4.5, -5.2,3.1, -2.7,2.4, -4.9,6.2, -1.6,4.9, -3.8,-0.1, -6.0,1.9, -2.2,6.8, -0.5,3.0, -3.3,5.2,
  -4.1,3.4, -5.6,4.4, -2.1,0.7, -3.4,6.0, -6.4,2.3, -1.1,5.3, -4.5,0.6, -2.6,3.3, -5.9,6.0, -3.6,-1.3,
  -4.8,3.7, -2.4,1.9, -3.9,4.2, -1.7,2.0, -4.4,2.5, -3.2,2.2, -5.4,4.9, -2.9,1.2, -3.5,4.4, -6.7,3.5,
  -4.0,4.9, -2.0,4.0, -5.0,2.9, -3.0,3.6, -1.3,3.0, -4.6,1.8, -3.7,5.5, -6.1,2.7, -2.3,5.2, -0.7,2.0,
  -3.5,1.4, -4.2,3.9, -2.7,2.9, -5.7,4.0, -1.9,1.6, -3.1,0.3, -4.9,5.8, -6.9,5.0, -2.9,6.4, -4.0,1.0,
  -3.8,3.5, -5.2,1.2, -1.6,0.6, -4.3,6.5, -2.6,-0.8, -1.0,3.9, -6.2,5.5, -3.3,0.9, -5.0,0.3, 0.1,1.9
];
const redBot3 = [
  0.34,8.2, 0.62,6.5, 0.5,5.0, 0.85,4.5, 0.73,2.7, 1.04,2.1, 1.13,3.6, 1.32,1.4, 1.5,5.0, 1.6,-0.2,
  1.74,3.0, 1.83,1.8, 1.97,6.5, 2.06,4.0, 2.16,2.5, 2.25,1.4, 2.37,4.5, 2.48,3.2, 2.6,-2.1, 2.67,2.1,
  2.76,0.7, 2.83,3.7, 2.95,5.0, 3.06,7.1, 3.13,2.5, 3.23,-0.4, 3.3,3.4, 3.42,1.8, 3.53,4.5, 3.65,2.9,
  3.76,5.9, 3.83,1.0, 3.93,3.7, 4.07,2.1, 4.16,5.0, 4.3,3.2, 4.4,0.3, 4.53,6.5, 4.63,2.1, 4.77,4.2,
  4.86,3.0, 5.05,1.4, 5.16,7.1, 5.28,4.5, 5.4,2.5, 5.5,0.7, 5.65,3.4, 5.79,5.4, 5.93,2.1, 6.0,4.0,
  6.17,1.4, 6.33,3.0, 6.45,5.0, 6.63,1.8, 6.8,8.2, 6.86,3.2, 6.96,2.1, 7.15,3.7, 7.33,2.5, 7.5,1.4,
  7.8,4.9, 8.0,4.2, 2.48,1.4, 3.06,1.4, 3.88,2.7, 2.13,1.8, 3.42,-1.4, 4.81,0.1, 1.2,-0.6, 1.66,0.7,
  2.95,2.9, 4.35,4.0, -1.0,2.5, -1.95,0.7,
  1.4,2.6, 2.0,3.4, 2.7,2.8, 3.2,4.1, 3.7,1.5, 4.2,3.5, 4.6,2.6, 5.2,3.2, 5.7,2.0, 6.3,3.8,
  1.8,4.6, 2.4,2.2, 3.0,3.8, 3.5,2.4, 4.0,4.6, 4.5,1.6, 5.0,4.9, 5.5,3.9, 6.1,2.7, 6.8,4.5,
  1.1,1.3, 2.2,0.5, 2.9,1.9, 3.4,5.3, 4.2,1.0, 4.9,2.2, 5.3,5.9, 6.6,2.9, 7.2,1.9, 1.6,3.9,
  2.6,4.2, 3.9,2.3, 4.4,5.4, 5.9,4.7, 0.9,3.6, 3.1,-0.9, 5.0,-1.0, 6.4,0.3, 7.0,4.8, 2.3,6.3
];
const dash3 = [-2.45,11.1, -0.35,0.8, -0.45,-1.5, -0.6,-5];
const solid3 = [-2.29,11.1, -0.31,0.7, -0.13,-5];

// ---- p = 0.5 ----
const blueTop4 = [
  -3.5,3.1, -4.2,4.0, -2.6,2.3, -5.0,2.6, -3.0,4.9, -4.6,1.4, -1.9,3.7, -5.7,4.5, -3.8,0.9, -2.3,5.6,
  -4.0,2.2, -6.2,3.3, -1.4,2.0, -3.3,6.1, -5.3,5.9, -2.8,1.1, -4.4,5.4, -0.9,3.3, -6.7,1.5, -3.6,2.9,
  -2.1,0.3, -5.5,1.0, -4.1,6.8, -1.2,4.5, -3.1,-0.4, -6.0,5.2, -2.5,3.0, -4.8,3.6, -0.5,1.7, -7.3,2.9,
  -3.9,5.0, -2.0,1.6, -5.1,-0.5, -4.3,2.9, -2.9,6.9, -6.4,2.2, -1.6,5.5, -3.4,1.9, -5.8,6.7, -0.3,4.7,
  -4.7,4.8, -3.2,3.6, -2.4,4.2, -6.9,4.3, -1.0,0.7, -4.0,-1.3, -5.4,3.8, -2.7,-1.0, -3.7,7.8, -7.7,2.6,
  -6.0,7.6, -4.5,8.1, -2.2,7.5, -1.3,-2.1, -4.8,-1.9, -5.3,-0.8, -7.5,-1.2, -0.2,6.0, -3.0,8.2, -7.9,1.4,
  -3.6,4.1, -4.9,2.1, -2.2,2.7, -5.7,3.0, -3.1,2.4, -1.5,3.9, -4.3,4.6, -2.8,5.1, -6.5,4.9, -3.9,1.6,
  -5.0,4.3, -2.5,0.9, -3.5,5.5, -1.8,2.4, -4.6,0.4, -6.3,0.7, -2.0,4.8, -3.3,-1.8, -5.6,2.0, 0.2,2.5,
  -4.1,3.2, -3.0,3.3, -2.4,1.8, -4.5,2.6, -3.7,2.1, -5.2,4.9, -1.2,1.4, -3.8,6.0, -2.9,4.0, -6.8,3.6,
  -4.2,1.0, -1.7,4.3, -5.0,6.4, -3.4,0.1, -0.7,5.0, -6.1,2.8, -2.6,6.4, -4.7,5.9, -1.0,2.9, 0.4,4.4,
  -7.0,6.1, -5.9,6.0, -3.2,4.5, -2.1,3.3, -4.4,3.9, -3.6,3.5, -1.4,0.3, -5.6,1.6, -0.6,3.9, -6.6,-1.0,
  -3.3,3.0, -4.4,3.3, -2.7,3.7, -3.9,2.5, -4.9,3.1, -2.2,2.3, -3.6,4.7, -5.2,2.0, -1.8,3.0, -4.1,4.5,
  -2.9,1.8, -5.5,4.4, -3.2,1.4, -4.6,5.1, -1.5,2.6, -3.8,3.7, -6.0,3.9, -2.5,4.6, -4.3,1.9, -3.0,5.7,
  -5.8,2.4, -2.0,5.2, -4.0,0.5, -3.5,2.5, -6.6,4.6, -1.1,3.8, -4.8,4.2, -2.7,0.2, -5.1,5.4, -3.7,6.6,
  -2.3,3.9, -4.5,2.8, -3.1,0.6, -5.4,2.9, -1.7,1.0, -3.9,4.2, -6.2,5.6, -2.6,5.9, -4.2,7.2, -0.8,4.5,
  -3.4,2.7, -5.0,0.9, -2.1,2.0, -4.7,3.9, -3.0,4.3, -6.8,1.9, -1.4,4.9, -4.4,6.3, -2.8,2.9, -5.7,5.0,
  -3.6,1.2, -2.4,6.7, -5.3,1.3, -0.4,2.9, -7.1,4.0, -4.1,2.4, -1.9,5.9, -3.3,5.0, -6.3,3.0, 0.0,5.4
];
const redTop4 = [
  2.7,2.4, 3.5,3.3, 1.9,1.6, 4.1,2.0, 2.3,3.9, 3.8,4.7, 1.2,2.9, 4.7,3.5, 2.9,0.7, 5.3,2.3,
  1.6,4.3, 3.2,1.3, 4.4,5.6, 2.0,0.2, 5.9,4.2, 0.6,1.9, 3.0,5.4, 6.2,2.8, 1.0,3.7, 3.9,-0.2,
  2.4,2.8, 4.8,1.2, 0.3,3.3, 3.4,6.3, 5.5,5.7, 1.5,-0.6, 6.6,1.5, 2.6,4.9, 4.2,3.0, -0.3,2.4,
  3.6,2.5, 0.9,5.2, 5.0,4.4, 2.2,1.8, 7.1,3.4, 3.1,-1.5, 1.8,6.5, 4.5,0.5, 6.0,5.7, 0.1,0.9,
  2.0,9.9, 2.3,9.4, 3.9,6.7, 0.3,6.2, 1.5,-3.0, 4.2,-2.6, 5.7,-1.0, 6.8,6.3, 7.6,4.0, 7.8,1.8,
  -0.8,4.0, 5.5,2.1, 3.3,3.7, 1.3,1.1, 4.0,4.3, 2.8,1.5, 5.1,0.9, 2.5,5.8, 6.4,3.5, 3.7,0.6,
  1.1,4.5, 4.6,2.7, 2.1,3.2, 3.0,2.2, 5.8,1.2, 0.5,2.8, 3.5,4.6, 7.3,2.3, 2.8,6.8, 4.9,6.5,
  1.7,2.3, 3.3,0.4, 6.3,4.9, 0.0,4.7, 2.6,1.0, 4.3,3.9, 5.2,3.2, 1.4,5.6, 3.8,2.8, 7.0,1.0,
  2.4,4.4, 3.1,3.0, 4.7,4.9, 0.8,0.2, 5.9,0.5, 2.2,-0.9, 3.6,5.3, 6.7,2.1, 1.0,6.1, 4.9,1.8,
  -0.5,0.7, -0.9,5.5, 0.2,-1.6, 2.9,3.6, 4.5,2.2, 1.9,4.9, 3.4,1.9, 5.6,4.5, 2.5,2.6, 4.0,7.0,
  1.3,3.5, 3.8,3.9, 5.0,5.6, 2.1,1.4, 6.1,3.9, 3.2,6.0, 0.6,5.0, 4.4,1.3, 2.7,3.5, 7.4,4.6,
  2.9,2.9, 3.6,2.2, 2.2,3.5, 4.2,3.3, 2.6,1.6, 3.3,4.2, 1.5,2.5, 4.6,2.9, 3.1,1.0, 5.1,3.7,
  1.8,3.9, 3.9,1.5, 4.9,4.7, 2.4,0.6, 5.6,3.1, 0.9,2.7, 3.2,5.0, 6.0,2.2, 1.3,4.6, 4.1,0.8,
  2.7,2.0, 4.5,1.7, 0.6,4.0, 3.6,5.8, 5.3,5.0, 1.9,-0.2, 6.5,3.2, 2.8,4.5, 4.4,3.6, 0.1,3.1,
  3.4,2.7, 1.2,5.5, 5.1,4.1, 2.3,1.2, 6.9,2.6, 3.0,-0.6, 2.0,5.9, 4.7,0.9, 5.8,5.3, 0.4,1.5,
  3.8,3.3, 2.5,3.1, 4.3,2.4, 1.6,1.8, 5.6,1.6, 2.9,5.5, 3.7,4.0, 6.3,4.2, 1.0,1.0, 4.8,5.7,
  2.1,2.7, 3.5,3.5, 5.0,2.9, 0.7,3.6, 4.0,5.0, 2.6,6.2, 6.7,4.8, 3.2,2.6, 1.4,3.3, 7.2,3.1
];
const blueBot4 = [
  -3.2,3.4, -4.4,2.5, -2.7,4.4, -3.8,1.7, -5.1,3.9, -2.1,2.8, -4.0,5.2, -3.1,1.0, -5.6,2.2, -1.6,4.0,
  -4.7,4.6, -2.4,0.6, -3.5,2.9, -6.1,4.7, -1.3,1.9, -4.1,0.1, -2.9,6.0, -5.4,5.8, -0.8,3.0, -3.7,3.8,
  -6.5,3.0, -2.0,5.4, -4.5,-0.5, -3.3,5.0, -5.8,1.1, -1.0,4.8, -4.0,6.5, -2.5,2.3, -7.2,4.7, -3.0,-0.8,
  -4.9,2.1, -2.2,3.5, -5.3,0.3, -3.6,0.8, -1.8,6.2, -6.6,5.5, -4.3,3.4, -0.5,1.5, -2.8,7.0, -5.9,3.5,
  -7.9,2.8, -7.6,5.1, -5.1,-2.6, -5.5,-3.0, -2.9,-2.0, -4.1,8.2, -2.1,8.4, -1.1,7.5, -7.9,0.4, -0.3,7.3,
  -3.4,4.5, -4.6,3.0, -2.6,1.3, -5.0,4.8, -3.9,2.6, -1.5,2.6, -6.2,2.1, -3.0,3.2, -4.2,1.3, -2.0,0.2,
  -5.7,6.6, -3.5,6.7, -1.2,5.2, -4.8,-0.8, -6.9,2.0, -2.4,4.9, -3.8,-1.4, -0.9,0.9, -5.2,4.2, -4.4,5.6,
  -3.1,2.1, -4.0,4.0, -2.3,3.0, -5.6,3.3, -1.7,3.4, -3.3,1.4, -4.7,1.5, -2.9,4.7, -6.3,5.9, -0.2,4.0,
  -3.6,3.1, -4.3,2.3, -2.0,2.0, -5.0,5.6, -1.4,-0.3, -3.9,5.9, -6.0,0.7, -2.6,6.3, -4.6,6.4, -0.6,5.8,
  -3.8,4.8, -5.3,1.6, -2.3,-0.5, -4.1,1.8, -1.0,2.2, -6.5,4.1, -3.2,5.6, -4.8,3.2, -2.7,3.9, -7.3,3.6,
  -0.4,2.6, -1.9,1.2, -3.4,0.1, -5.8,-0.4, -4.5,7.1, -2.2,7.4, -6.8,5.2, -5.4,6.8, -1.3,6.6, -3.0,-1.7,
  -3.5,3.3, -4.2,3.6, -2.5,3.2, -3.9,2.1, -5.0,2.8, -2.0,3.9, -3.7,4.6, -5.3,3.2, -1.7,2.4, -4.4,4.3,
  -3.0,1.6, -5.6,4.0, -3.3,2.4, -4.7,5.2, -1.4,3.4, -3.8,3.0, -6.1,3.3, -2.6,4.3, -4.1,2.0, -3.1,5.3,
  -5.9,2.7, -2.1,5.0, -4.2,0.7, -3.6,2.2, -6.7,4.3, -1.0,3.6, -4.9,4.6, -2.8,0.4, -5.2,5.2, -3.6,6.1,
  -2.4,3.7, -4.6,2.5, -3.2,0.6, -5.5,2.6, -1.8,0.9, -4.0,4.1, -6.3,5.0, -2.5,5.6, -4.3,6.0, -0.9,4.3,
  -3.3,2.6, -5.1,1.2, -2.2,1.9, -4.8,3.6, -3.1,4.0, -7.0,2.2, -1.5,4.5, -4.4,6.1, -2.9,3.0, -5.8,4.9,
  -3.7,1.0, -2.3,6.3, -5.4,1.4, -0.6,3.3, -7.4,4.6, -4.0,2.9, -1.9,5.7, -3.4,4.9, -6.4,3.2, -0.1,5.3
];
const redBot4 = [
  2.9,2.6, 3.6,3.4, 2.0,1.9, 4.3,2.2, 2.5,4.0, 3.3,1.2, 1.3,3.2, 4.9,3.6, 3.0,0.5, 5.5,2.5,
  1.7,4.5, 3.9,-0.3, 4.5,5.4, 2.2,0.6, 6.1,4.0, 0.7,2.1, 3.1,5.6, 6.4,2.7, 1.1,3.8, 2.7,3.1,
  2.6,2.3, 5.0,1.0, 0.4,3.5, 3.5,6.1, 5.7,5.8, 1.6,-0.2, 6.8,1.5, 2.8,4.9, 4.4,3.1, -0.2,2.6,
  3.8,2.7, 1.0,5.3, 5.2,4.5, 2.3,1.6, 7.3,3.3, 3.2,-1.4, 1.9,6.6, 4.6,0.6, 6.2,5.8, 0.2,1.0,
  1.8,9.1, 2.6,7.9, 4.1,7.4, 0.6,7.1, 2.2,-2.2, 5.0,-3.1, 3.8,-2.0, 7.8,4.2, 6.6,-0.1, 5.9,6.7,
  -0.6,4.2, 5.6,2.2, 3.4,3.9, 1.4,1.2, 4.1,4.4, 2.9,1.7, 5.3,0.9, 2.4,5.9, 6.6,3.6, 3.7,0.4,
  1.2,4.6, 4.7,2.9, 2.1,3.3, 3.1,2.4, 5.9,1.3, 0.5,3.0, 3.5,4.7, 7.4,2.2, 2.9,6.9, 5.0,6.4,
  1.8,2.4, 3.3,0.7, 6.4,5.0, 0.1,4.8, 2.7,1.0, 4.4,4.0, 5.3,3.3, 1.5,5.7, 3.9,2.9, 7.1,1.1,
  2.4,4.5, 3.1,3.1, 4.8,5.0, 0.9,0.3, 6.0,0.6, 2.3,-0.8, 3.6,5.4, 6.8,2.2, 1.1,6.2, 4.9,1.9,
  -0.4,0.8, -0.8,5.6, 0.3,-1.2, 2.9,3.7, 4.5,2.3, 1.9,5.0, 3.4,2.0, 5.7,4.6, 2.5,2.7, 4.0,6.8,
  1.3,3.6, 3.8,4.0, 5.1,5.7, 2.1,1.5, 6.2,3.9, 3.2,6.1, 0.6,5.1, 4.4,1.4, 2.7,3.6, 7.5,4.7,
  2.8,2.8, 3.5,2.0, 2.1,3.6, 4.3,3.1, 2.6,1.4, 3.2,4.3, 1.6,2.3, 4.6,3.0, 3.1,0.9, 5.2,3.5,
  1.9,3.9, 3.8,1.6, 4.9,4.9, 2.5,0.4, 5.6,2.9, 0.9,2.6, 3.3,5.1, 6.1,2.0, 1.2,4.5, 4.1,0.6,
  2.8,2.1, 4.5,1.8, 0.7,4.1, 3.7,5.7, 5.4,5.2, 1.9,0.0, 6.4,3.3, 2.9,4.6, 4.4,3.7, 0.2,3.2,
  3.4,2.6, 1.3,5.4, 5.1,4.0, 2.3,1.1, 6.9,2.5, 3.0,-0.5, 2.1,5.8, 4.7,1.0, 5.8,5.4, 0.5,1.4,
  3.8,3.4, 2.4,3.2, 4.2,2.5, 1.7,1.9, 5.5,1.5, 2.9,5.4, 3.6,4.1, 6.3,4.3, 1.1,1.0, 4.9,5.8,
  2.2,2.8, 3.5,3.6, 5.0,2.8, 0.7,3.7, 4.0,5.1, 2.6,6.3, 6.8,4.9, 3.2,2.5, 1.4,3.4, 7.3,3.2
];
const dash4 = [0.08,11.1, -0.05,3.6, 0.0,-0.4, 0.43,-5];
const solid4 = [0.08,11.1, -0.04,5.0, 0.0,0.0, 0.25,-2.2, 0.43,-5];

// layout of the 8 panels (plot-area left/top in page px)
const panels = [
  { id: 't1', left: 33,  top: 6,  minor: blueTop1, major: redTop1,  minorC: 'b', dash: dash1, solid: null },
  { id: 't2', left: 284, top: 6,  minor: blueTop2, major: redTop2,  minorC: 'b', dash: dash2, solid: null },
  { id: 't3', left: 533, top: 6,  minor: blueTop3, major: redTop3,  minorC: 'b', dash: dash3, solid: null },
  { id: 't4', left: 784, top: 6,  minor: blueTop4, major: redTop4,  minorC: 'b', dash: dash4, solid: null },
  { id: 'b1', left: 33,  top: 96, minor: redBot1,  major: blueBot1, minorC: 'r', dash: dash1, solid: solid1 },
  { id: 'b2', left: 284, top: 96, minor: redBot2,  major: blueBot2, minorC: 'r', dash: dash2, solid: solid2 },
  { id: 'b3', left: 533, top: 96, minor: redBot3,  major: blueBot3, minorC: 'r', dash: dash3, solid: solid3 },
  { id: 'b4', left: 784, top: 96, minor: redBot4,  major: blueBot4, minorC: 'r', dash: dash4, solid: solid4 }
];

const RED = 'rgba(255,0,0,0.65)';
const BLUE = 'rgba(0,0,255,0.7)';
const PW = 228, PH = 73, YAXIS_W = 24, XAXIS_H = 16, PAD_T = 3, PAD_R = 5;

function pts(a) {
  const out = [];
  for (let i = 0; i < a.length; i += 2) out.push({ x: a[i], y: a[i + 1] });
  return out;
}

// matplotlib-style box around each plot
const frame = {
  id: 'frame',
  afterDraw(chart) {
    const a = chart.chartArea, ctx = chart.ctx;
    ctx.save();
    ctx.strokeStyle = '#777';
    ctx.lineWidth = 1;
    ctx.strokeRect(Math.round(a.left) - 0.5, Math.round(a.top) - 0.5, Math.round(a.right - a.left) + 1, Math.round(a.bottom - a.top) + 1);
    ctx.restore();
  }
};

const minus = v => String(v).replace('-', '\u2212');

panels.forEach(p => {
  const cv = document.getElementById(p.id);
  cv.width = YAXIS_W + PW + PAD_R;
  cv.height = PAD_T + PH + XAXIS_H;
  cv.style.left = (p.left - YAXIS_W) + 'px';
  cv.style.top = (p.top - PAD_T) + 'px';

  const lineDs = (arr, dashed) => ({
    type: 'line', data: pts(arr), showLine: true, borderColor: '#000',
    borderWidth: dashed ? 1.1 : 1.6, borderDash: dashed ? [2.5, 1.5] : [],
    pointRadius: 0, fill: false, tension: 0
  });
  const datasets = [];
  if (p.solid) datasets.push(lineDs(p.solid, false));
  datasets.push(lineDs(p.dash, true));
  const minorCol = p.minorC === 'b' ? BLUE : RED;
  const majorCol = p.minorC === 'b' ? RED : BLUE;
  datasets.push({ data: pts(p.minor), backgroundColor: minorCol, borderWidth: 0, pointRadius: 1.25 });
  datasets.push({ data: pts(p.major), backgroundColor: majorCol, borderWidth: 0, pointRadius: 1.25 });

  new Chart(cv.getContext('2d'), {
    type: 'scatter',
    data: { datasets },
    options: {
      responsive: false,
      animation: false,
      events: [],
      layout: { padding: { top: PAD_T, right: PAD_R, left: 0, bottom: 0 } },
      plugins: { legend: { display: false }, tooltip: { enabled: false } },
      scales: {
        x: {
          type: 'linear', min: -8, max: 8,
          afterBuildTicks: s => { s.ticks = xTicks.map(v => ({ value: v })); },
          afterFit: s => { s.height = XAXIS_H; },
          grid: { display: true, drawOnChartArea: false, drawTicks: true, tickLength: 3, color: '#555' },
          border: { display: false },
          ticks: { font: { family: 'DejaVu Sans', size: 6.5 }, color: '#333', padding: 1, maxRotation: 0, callback: minus }
        },
        y: {
          type: 'linear', min: -5, max: yMax,
          afterBuildTicks: s => { s.ticks = yTicks.map(v => ({ value: v })); },
          afterFit: s => { s.width = YAXIS_W; },
          grid: { display: true, drawOnChartArea: false, drawTicks: true, tickLength: 3, color: '#555' },
          border: { display: false },
          ticks: { font: { family: 'DejaVu Sans', size: 6.5 }, color: '#333', padding: 2, callback: minus }
        }
      }
    },
    plugins: [frame]
  });
});

// justify the caption lines to the full text width by adjusting word spacing
const CAP_W = 997;
document.querySelectorAll('.cap.fit').forEach(el => {
  const natural = el.getBoundingClientRect().width;
  const gaps = (el.textContent.match(/ /g) || []).length;
  if (gaps) el.style.wordSpacing = ((CAP_W - natural) / gaps) + 'px';
});
</script>
</body>
</html>
